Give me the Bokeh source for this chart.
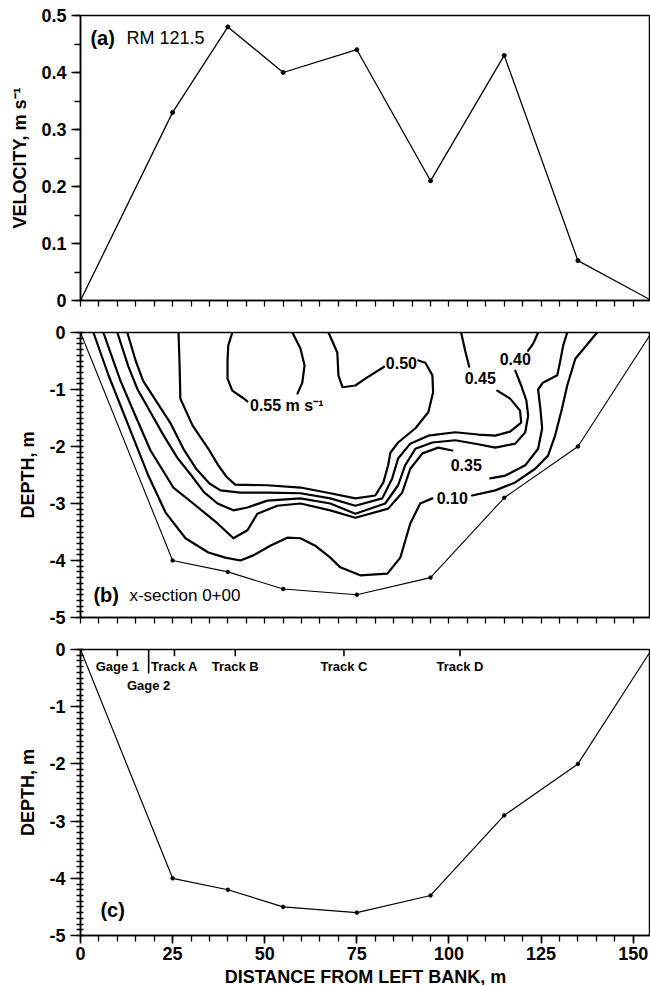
from bokeh.plotting import figure
from bokeh.layouts import column
from bokeh.models import FixedTicker, Label, CustomJSTickFormatter
from bokeh.core.properties import value
from bokeh.embed import file_html
from bokeh.resources import INLINE

FONT = "Liberation Sans"

# Survey stations across the section, metres from the left bank
STATIONS = [0, 25, 40, 55, 75, 95, 115, 135, 155]
# Depth-averaged velocity at each station, m/s
VELOCITY = [0, 0.33, 0.48, 0.40, 0.44, 0.21, 0.43, 0.07, 0]
# Bed elevation below the water surface, m
BED_DEPTH = [0, -4.0, -4.2, -4.5, -4.6, -4.3, -2.9, -2.0, 0]

X_TICKS = [0, 25, 50, 75, 100, 125, 150]
VEL_TICKS = [0, 0.1, 0.2, 0.3, 0.4, 0.5]
DEPTH_TICKS = [-5, -4, -3, -2, -1, 0]

# Isovels (m/s); each is split into pieces where its label interrupts it
ISO_010_X = [[3.5, 7.6, 14.1, 18.4, 23.1, 28.5, 34.7, 39.3, 43.4, 46.9, 51.5, 56.1, 59.7,
              63.7, 67.8, 70.5, 75.9, 83.3, 86.8, 89.5, 92.2, 95.5],
             [106.3, 112.6, 118.0, 123.4, 126.9, 128.8, 130.7, 132.1, 134.3, 140.2]]
ISO_010_Y = [[0, -0.75, -1.81, -2.51, -3.16, -3.61, -3.86, -3.95, -4.0, -3.91, -3.74, -3.60, -3.61,
              -3.74, -3.95, -4.12, -4.26, -4.23, -3.95, -3.35, -3.0, -2.91],
             [-2.86, -2.77, -2.63, -2.39, -2.16, -1.81, -1.33, -0.93, -0.46, 0]]

ISO_035_X = [[6.2, 10.8, 14.9, 19.0, 25.2, 30.6, 37.2, 41.5, 45.3, 48.0, 53.4, 59.7, 67.8, 74.6,
              83.5, 87.3, 89.5, 92.8, 97.1, 100.9],
             [111.2, 115.3, 120.7, 124.2, 125.3, 124.8, 124.2, 125.5, 129.4, 130.2, 131.0, 132.1]]
ISO_035_Y = [[0, -0.84, -1.46, -2.07, -2.72, -3.0, -3.35, -3.61, -3.47, -3.18, -3.04, -3.0, -3.12, -3.25,
              -3.09, -2.81, -2.39, -2.12, -2.02, -2.07],
             [-2.56, -2.51, -2.33, -2.04, -1.68, -1.33, -1.0, -0.88, -0.75, -0.5, -0.23, 0]]

ISO_040_X = [[10.0, 13.0, 15.5, 19.0, 22.5, 26.3, 30.0, 33.5, 37.2, 41.5, 45.3, 50.7, 59.7, 67.8,
              74.6, 82.7, 86.2, 88.1, 90.9, 95.5, 101.7, 107.9, 112.6, 118.0, 120.7, 121.5, 121.0,
              119.6, 118.0],
             [121.5, 122.9, 124.2]]
ISO_040_Y = [[0, -0.6, -1.0, -1.4, -1.8, -2.2, -2.5, -2.8, -3.0, -3.12, -3.07, -2.95, -2.91, -3.0,
              -3.18, -3.0, -2.68, -2.33, -2.04, -1.93, -1.89, -1.96, -2.02, -1.95, -1.75, -1.46, -1.19,
              -0.93, -0.67],
             [-0.32, -0.19, 0]]

ISO_045_X = [[12.7, 15.0, 17.0, 20.5, 24.5, 28.0, 31.5, 35.0, 38.0, 43.4, 50.7, 59.7, 67.8, 74.6,
              81.9, 84.6, 86.2, 89.5, 94.4, 101.7, 107.9, 112.6, 116.6, 119.6, 119.3, 116.6, 113.1],
             [105.5, 104.4, 103.3]]
ISO_045_Y = [[0, -0.5, -0.85, -1.2, -1.6, -2.05, -2.4, -2.65, -2.77, -2.81, -2.81, -2.82, -2.91, -3.04,
              -2.91, -2.56, -2.21, -1.95, -1.81, -1.75, -1.79, -1.81, -1.74, -1.58, -1.37, -1.16, -1.02],
             [-0.60, -0.32, 0]]

ISO_050_X = [[26.6, 26.9, 27.1, 30.4, 34.7, 37.4, 39.6, 42.0, 50.7, 59.7, 67.8, 74.6, 80.0, 82.2,
              83.5, 84.1, 86.2, 90.9, 94.4, 95.7, 95.5, 93.6, 91.7],
             [82.4, 77.3, 74.6, 71.1, 70.0, 69.7, 67.3]]
ISO_050_Y = [[0, -0.58, -1.16, -1.63, -2.04, -2.33, -2.53, -2.67, -2.68, -2.72, -2.82, -2.91, -2.86, -2.63,
              -2.33, -2.11, -1.93, -1.68, -1.40, -1.05, -0.75, -0.53, -0.49],
             [-0.60, -0.81, -0.93, -0.96, -0.75, -0.35, 0]]

ISO_055_X = [[41.2, 40.1, 39.9, 39.9, 41.2, 43.9, 45.3],
             [57.5, 59.7, 60.8, 60.2, 58.9]]
ISO_055_Y = [[0, -0.23, -0.49, -0.81, -1.02, -1.14, -1.21],
             [0, -0.28, -0.58, -0.88, -1.07]]

ISO_LABELS = ["0.10", "0.35", "0.40", "0.45", "0.50"]
ISO_LABEL_X = [100.9, 104.7, 118.0, 108.5, 87.1]
ISO_LABEL_Y = [-2.91, -2.33, -0.46, -0.79, -0.54]
CORE_LABEL = "0.55 m s\u207b\u00b9"
CORE_LABEL_X = 46.0
CORE_LABEL_Y = -1.28

# Instrument and track locations along the section
MARK_NAMES = ["Gage 1", "Gage 2", "Track A", "Track B", "Track C", "Track D"]
MARK_X = [10, 18.5, 25.5, 42, 71.5, 103]

X_RANGE = (0, 154.7)
X_MINOR = list(range(0, 155, 5))


def panel(y_range, top, bottom, frame_h, x_labels):
    p = figure(frame_width=570, frame_height=frame_h, x_range=X_RANGE, y_range=y_range,
               output_backend="svg", toolbar_location=None,
               min_border_left=80, min_border_right=0,
               min_border_top=top, min_border_bottom=bottom,
               background_fill_color="white", border_fill_color="white")
    p.grid.visible = False
    p.outline_line_color = "black"
    p.outline_line_width = 1.5
    for ax in (p.xaxis[0], p.yaxis[0]):
        ax.axis_line_width = 1.5
        ax.axis_line_color = "black"
        ax.major_tick_line_width = 1.6
        ax.major_tick_line_color = "black"
        ax.minor_tick_line_width = 1.3
        ax.minor_tick_line_color = "black"
        ax.major_label_text_font = FONT
        ax.major_label_text_font_style = "bold"
        ax.major_label_text_font_size = "18px"
        ax.major_label_text_color = "black"
        ax.axis_label_text_font = FONT
        ax.axis_label_text_font_style = "bold"
        ax.axis_label_text_font_size = "18px"
        ax.axis_label_text_color = "black"
    if x_labels:
        p.xaxis.ticker = FixedTicker(ticks=X_TICKS, minor_ticks=X_MINOR)
    else:
        # tick marks only, no numbers
        p.xaxis.ticker = FixedTicker(ticks=[], minor_ticks=X_MINOR)
    p.xaxis.major_tick_in = 0
    p.xaxis.major_tick_out = 8
    p.xaxis.minor_tick_in = 0
    p.xaxis.minor_tick_out = 6
    return p


def depth_axis(p):
    p.yaxis.ticker = FixedTicker(ticks=DEPTH_TICKS,
                                 minor_ticks=[i / 10 for i in range(-50, 1)])
    p.yaxis.formatter = CustomJSTickFormatter(code="return tick.toFixed(0);")
    p.yaxis.major_tick_in = 0
    p.yaxis.major_tick_out = 10
    p.yaxis.minor_tick_in = 3
    p.yaxis.minor_tick_out = 4
    p.yaxis.major_label_standoff = 5
    p.yaxis.axis_label = "DEPTH, m"
    p.yaxis.axis_label_standoff = 8


def panel_tag(p, x, y, tag, text, size="18px"):
    p.add_layout(Label(x=x, y=y, text=tag, text_font=FONT, text_font_style="bold",
                       text_font_size="20px", text_baseline="middle", text_color="black"))
    p.add_layout(Label(x=x, y=y, x_offset=36, text=text, text_font=FONT,
                       text_font_size=size, text_baseline="middle", text_color="black"))


# (a) velocity profile
pa = panel((0, 0.5), 15, 17, 285, False)
pa.yaxis.ticker = FixedTicker(ticks=VEL_TICKS, minor_ticks=[i / 100 for i in range(0, 51, 5)])
pa.yaxis.formatter = CustomJSTickFormatter(code="return tick == 0 ? '0' : tick.toFixed(1);")
pa.yaxis.major_tick_in = 0
pa.yaxis.major_tick_out = 9
pa.yaxis.minor_tick_in = 0
pa.yaxis.minor_tick_out = 6
pa.yaxis.major_label_standoff = 5
pa.yaxis.axis_label = "VELOCITY, m s\u207b\u00b9"
pa.yaxis.axis_label_standoff = 8
pa.line(STATIONS, VELOCITY, line_color="black", line_width=1.3)
pa.scatter(STATIONS, VELOCITY, size=4, color="black")
panel_tag(pa, 2.7, 0.46, "(a)", "RM 121.5")

# (b) isovels over the cross-section
pb = panel((-5, 0), 15, 16, 285, False)
depth_axis(pb)
pb.line(STATIONS, BED_DEPTH, line_color="black", line_width=1.1)
pb.scatter(STATIONS, BED_DEPTH, size=3.5, color="black")
iso_xs = ISO_010_X + ISO_035_X + ISO_040_X + ISO_045_X + ISO_050_X + ISO_055_X
iso_ys = ISO_010_Y + ISO_035_Y + ISO_040_Y + ISO_045_Y + ISO_050_Y + ISO_055_Y
pb.multi_line(xs=iso_xs, ys=iso_ys, line_color="black", line_width=2.2,
              line_join="round", line_cap="round")
pb.text(x=ISO_LABEL_X, y=ISO_LABEL_Y, text=ISO_LABELS, text_font=value(FONT),
        text_font_style="bold", text_font_size="16px", text_align="center",
        text_baseline="middle", text_color="black")
pb.text(x=[CORE_LABEL_X], y=[CORE_LABEL_Y], text=[CORE_LABEL], text_font=value(FONT),
        text_font_style="bold", text_font_size="16px", text_align="left",
        text_baseline="middle", text_color="black")
panel_tag(pb, 3.5, -4.61, "(b)", "x-section 0+00", size="17px")

# (c) bed profile with instrument locations
pc = panel((-5, 0), 16, 50, 286, True)
depth_axis(pc)
pc.xaxis.major_label_standoff = 3
pc.xaxis.axis_label = "DISTANCE FROM LEFT BANK, m"
pc.xaxis.axis_label_standoff = 4
pc.line(STATIONS, BED_DEPTH, line_color="black", line_width=1.2)
pc.scatter(STATIONS, BED_DEPTH, size=3.5, color="black")
mark_len = [-0.42 if n == "Gage 2" else -0.12 for n in MARK_NAMES]
pc.segment(x0=MARK_X, y0=[0] * len(MARK_X), x1=MARK_X, y1=mark_len,
           line_color="black", line_width=1.6)
label_y = [-0.5 if n == "Gage 2" else -0.17 for n in MARK_NAMES]
pc.text(x=MARK_X, y=label_y, text=MARK_NAMES, text_font=value(FONT), text_font_style="bold",
        text_font_size="13px", text_align="center", text_baseline="top", text_color="black")
pc.add_layout(Label(x=5.4, y=-4.56, text="(c)", text_font=FONT, text_font_style="bold",
                    text_font_size="20px", text_baseline="middle", text_color="black"))

layout = column(pa, pb, pc, spacing=0)
open("out.html", "w").write(file_html(layout, INLINE))
